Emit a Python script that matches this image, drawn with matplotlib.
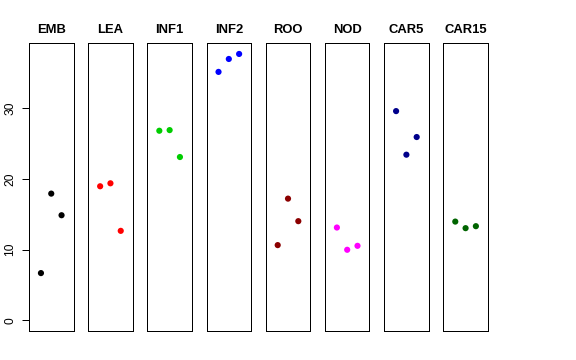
import matplotlib
matplotlib.use("Agg")
import matplotlib.pyplot as plt

plt.rcParams['font.family'] = ['Liberation Sans', 'DejaVu Sans']

tissues = ["EMB", "LEA", "INF1", "INF2", "ROO", "NOD", "CAR5", "CAR15"]
colors = ["black", "#FF0000", "#00CD00", "#0000FF", "#8B0000", "#FF00FF", "#00008B", "#006400"]
rep_x = [1, 2, 3]
emb = [6.69, 17.94, 14.88]
lea = [18.98, 19.40, 12.67]
inf1 = [26.84, 26.93, 23.12]
inf2 = [35.17, 37.00, 37.71]
roo = [10.65, 17.23, 14.04]
nod = [13.14, 9.99, 10.55]
car5 = [29.62, 23.45, 25.95]
car15 = [13.98, 13.05, 13.33]
values = [emb, lea, inf1, inf2, roo, nod, car5, car15]
yticks = [0, 10, 20, 30]

W, H = 576, 360
fig = plt.figure(figsize=(W / 72, H / 72), dpi=72)

ymax = max(max(v) for v in values)
ylo, yhi = 0 - 0.04 * ymax, ymax + 0.04 * ymax
xlo, xhi = 0 - 0.04 * 4, 4 + 0.04 * 4

left0 = 29.0
pitch = 59.19
pw = 44.5
top_px, bot_px = 43.3, 331.0

for i, (name, col, vals) in enumerate(zip(tissues, colors, values)):
    l = left0 + i * pitch
    ax = fig.add_axes([l / W, 1 - bot_px / H, pw / W, (bot_px - top_px) / H])
    ax.scatter(rep_x, vals, s=38, color=col, edgecolors='none', zorder=3)
    ax.set_xlim(xlo, xhi)
    ax.set_ylim(ylo, yhi)
    ax.set_xticks([])
    for sp in ax.spines.values():
        sp.set_linewidth(1.0)
        sp.set_color('black')
    ax.set_title(name, fontweight='bold', fontsize=13, pad=10)
    if i == 0:
        ax.set_yticks(yticks)
        ax.set_yticklabels([str(t) for t in yticks], rotation=90, va='center', fontsize=12)
        ax.tick_params(axis='y', length=7, width=1, pad=6)
    else:
        ax.set_yticks([])

fig.savefig("out.png", dpi=72)
